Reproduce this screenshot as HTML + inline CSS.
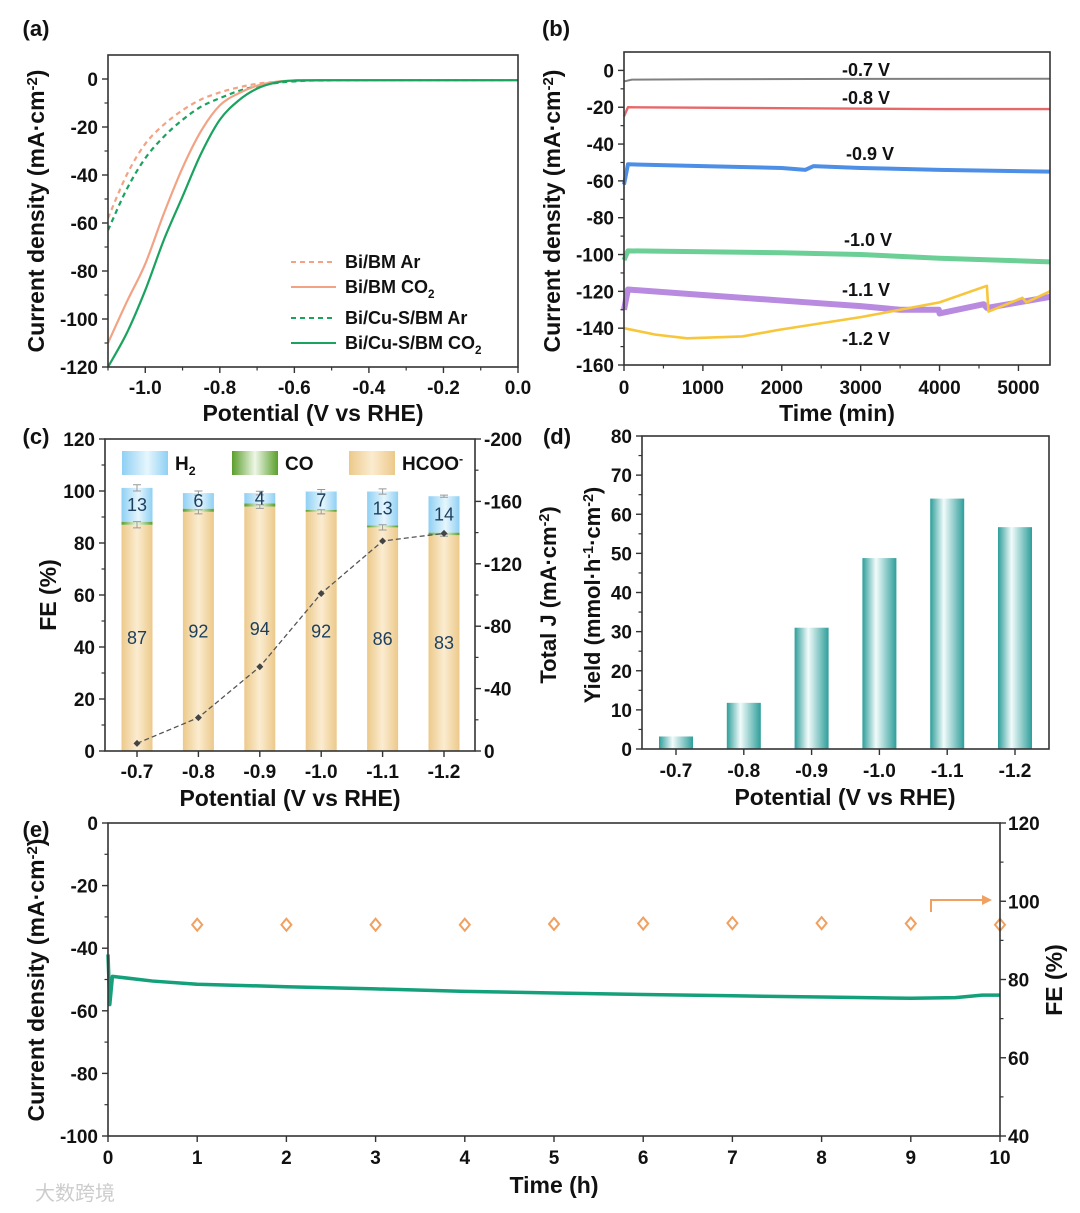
<!DOCTYPE html>
<html><head><meta charset="utf-8"><style>
html,body{margin:0;padding:0;background:#fff;}
svg{display:block;font-family:"Liberation Sans","Noto Sans CJK SC",sans-serif;}
</style></head><body>
<svg id="fig" width="1080" height="1213" viewBox="0 0 1080 1213" xmlns="http://www.w3.org/2000/svg">
<defs>
<linearGradient id="gTan" x1="0" x2="1"><stop offset="0" stop-color="#ecc98a"/><stop offset="0.5" stop-color="#fbecd0"/><stop offset="1" stop-color="#ecc98a"/></linearGradient>
<linearGradient id="gBlue" x1="0" x2="1"><stop offset="0" stop-color="#8fd0f4"/><stop offset="0.55" stop-color="#e6f6fd"/><stop offset="1" stop-color="#8fd0f4"/></linearGradient>
<linearGradient id="gGreen" x1="0" x2="1"><stop offset="0" stop-color="#5a9e2c"/><stop offset="0.5" stop-color="#eef7e6"/><stop offset="1" stop-color="#5a9e2c"/></linearGradient>
<linearGradient id="gTeal" x1="0" x2="1"><stop offset="0" stop-color="#2e9e9a"/><stop offset="0.4" stop-color="#f2fbfb"/><stop offset="1" stop-color="#2e9e9a"/></linearGradient>
</defs>
</svg>
<script>
// ---------- data ----------
// panel a
const aX = [-1.1,-1.05,-1.0,-0.95,-0.9,-0.85,-0.8,-0.75,-0.7,-0.65,-0.6,-0.5,0];
const aBiAr   = [-58,-40,-27,-19,-13,-8.5,-5.6,-3.5,-2,-1.2,-0.8,-0.6,-0.5];
const aBiCO2  = [-110,-93,-77,-56,-37,-21.6,-11,-6,-2.8,-1.2,-0.6,-0.5,-0.5];
const aCuAr   = [-63,-46,-33,-24,-17,-11.5,-8,-5,-3,-1.7,-1,-0.6,-0.5];
const aCuCO2  = [-120,-106,-88,-67,-49,-31,-17,-9,-4,-1.5,-0.6,-0.5,-0.5];
// panel b
const b07T=[0,100,1000,3000,5400], b07=[-6,-5,-4.8,-4.6,-4.5];
const b08T=[0,50,2000,4000,5400], b08=[-25,-20,-20.5,-21,-21];
const b09T=[0,50,1000,2000,2300,2400,3000,4000,5400], b09=[-62,-51,-52,-53,-54,-52,-53,-54,-55];
const b10T=[0,50,2000,3000,4000,5400], b10=[-103,-98,-99,-100,-102,-104];
const b11T=[0,50,1000,2000,3000,3500,3990,4000,4560,4600,5000,5400], b11=[-130,-119,-122,-125,-128,-130,-130,-132,-127,-129,-126,-123];
const b12T=[0,400,800,1500,1950,3000,4000,4600,4620,5050,5100,5400], b12=[-140,-143.5,-145.5,-144.5,-141,-134,-126,-117,-131,-123.5,-126,-120];
// panel c
const cCats = ['-0.7','-0.8','-0.9','-1.0','-1.1','-1.2'];
const cHCOO = [87,92,94,92,86,83];
const cCO   = [1.2,1.2,1.2,0.8,0.8,1.0];
const cH2   = [13,6,4,7,13,14];
const cErr  = [1.2,0.8,0.7,0.8,1.0,0.4];
const cJ    = [4.9,21.4,54,101,134.6,139.5];
// panel d
const dCats = ['-0.7','-0.8','-0.9','-1.0','-1.1','-1.2'];
const dYield = [3.2,11.8,31,48.8,64,56.7];
// panel e
const eT = [0,0.02,0.05,0.5,1,2,3,4,5,6,7,8,9,9.5,9.8,10];
const eJ = [-42,-58,-49,-50.5,-51.5,-52.3,-53,-53.8,-54.3,-54.8,-55.2,-55.6,-56,-55.8,-55,-55];
const eFEt = [1,2,3,4,5,6,7,8,9,10];
const eFE = [94,94,94,94,94.2,94.3,94.4,94.4,94.3,94];

// ---------- helpers ----------
const NS='http://www.w3.org/2000/svg';
const svg=document.getElementById('fig');
const TICK=19;
function mk(tag,attrs,name,parent){
  const el=document.createElementNS(NS,tag);
  for(const k in attrs) el.setAttribute(k,attrs[k]);
  
  
  (parent||svg).appendChild(el); return el;
}
function txt(x,y,s,o,name){
  o=o||{};
  const t=mk('text',{x:x,y:y,'font-size':o.size||TICK,'font-weight':o.weight||'bold','text-anchor':o.anchor||'middle',fill:o.fill||'#111'},name);
  if(o.rot) t.setAttribute('transform','rotate('+o.rot+' '+x+' '+y+')');
  t.textContent=s; return t;
}
function richTxt(x,y,parts,o,name){
  o=o||{};
  const t=mk('text',{x:x,y:y,'font-size':o.size||20,'font-weight':'bold','text-anchor':o.anchor||'middle',fill:'#111'},name);
  if(o.rot) t.setAttribute('transform','rotate('+o.rot+' '+x+' '+y+')');
  parts.forEach(p=>{
    const ts=document.createElementNS(NS,'tspan');
    if(p[1]==='sup'){ts.setAttribute('dy',-7);ts.setAttribute('font-size',(o.size||20)*0.65);}
    if(p[1]==='sub'){ts.setAttribute('dy',5);ts.setAttribute('font-size',(o.size||20)*0.65);}
    ts.textContent=p[0]; t.appendChild(ts);
    if(p[1]){const b=document.createElementNS(NS,'tspan');b.setAttribute('dy',p[1]==='sup'?7:-5);b.textContent='\u200b';t.appendChild(b);}
  });
  return t;
}
function sc(d0,d1,r0,r1){return v=>r0+(v-d0)/(d1-d0)*(r1-r0);}
function frame(L,T,R,B,name){mk('rect',{x:L,y:T,width:R-L,height:B-T,fill:'none',stroke:'#333','stroke-width':1.6},name);}
function yTicks(ys,L,vals,minor,labelX,side,name,fmt){
  const d=side==='r'?1:-1;
  vals.forEach(v=>{mk('line',{x1:L,x2:L+d*6,y1:ys(v),y2:ys(v),stroke:'#333','stroke-width':1.4},name+'-tick');
    txt(labelX,ys(v)+7,fmt?fmt(v):String(v),{anchor:side==='r'?'start':'end'},name+'-label');});
  minor.forEach(v=>mk('line',{x1:L,x2:L+d*3.5,y1:ys(v),y2:ys(v),stroke:'#333','stroke-width':1.2},name+'-minor-tick'));
}
function xTicks(xs,B,vals,labels,minor,labelY,name){
  vals.forEach((v,i)=>{mk('line',{x1:xs(v),x2:xs(v),y1:B,y2:B+6,stroke:'#333','stroke-width':1.4},name+'-tick');
    txt(xs(v),labelY,labels[i],{},name+'-label');});
  minor.forEach(v=>mk('line',{x1:xs(v),x2:xs(v),y1:B,y2:B+3.5,stroke:'#333','stroke-width':1.2},name+'-minor-tick'));
}
function linePath(pts){return 'M'+pts.map(p=>p[0]+','+p[1]).join(' L');}
function smoothPath(pts){
  // monotone-ish: cubic with clamped tangents to avoid overshoot
  let d='M'+pts[0][0]+','+pts[0][1];
  for(let i=0;i<pts.length-1;i++){
    const p0=pts[i-1]||pts[i],p1=pts[i],p2=pts[i+1],p3=pts[i+2]||p2;
    let c1=[p1[0]+(p2[0]-p0[0])/6,p1[1]+(p2[1]-p0[1])/6],c2=[p2[0]-(p3[0]-p1[0])/6,p2[1]-(p3[1]-p1[1])/6];
    const lo=Math.min(p1[1],p2[1]),hi=Math.max(p1[1],p2[1]);
    c1[1]=Math.min(hi,Math.max(lo,c1[1]));c2[1]=Math.min(hi,Math.max(lo,c2[1]));
    d+=' C'+c1[0]+','+c1[1]+' '+c2[0]+','+c2[1]+' '+p2[0]+','+p2[1];
  }
  return d;
}
function range(a,b,s){const r=[];for(let v=a;v<=b+1e-9;v+=s)r.push(+v.toFixed(4));return r;}

// ---------- panel labels ----------
txt(36,36,'(a)',{size:22},'panel-a-label');
txt(556,36,'(b)',{size:22},'panel-b-label');
txt(36,444,'(c)',{size:22},'panel-c-label');
txt(557,444,'(d)',{size:22},'panel-d-label');
txt(36,837,'(e)',{size:22},'panel-e-label');

// ---------- panel a ----------
(function(){
  const L=108,R=518,T=55,B=367;
  const xs=sc(-1.1,0,L,R), ys=sc(-120,10,B,T);
  const g=mk('g',{},'panel-a-lsv');
  const clip=mk('clipPath',{id:'clipA'},'clip-a',svg); mk('rect',{x:L,y:T,width:R-L,height:B-T},'clip-a-rect',clip);
  const series=[[aBiAr,'#f3a385','5,4','bi-bm-ar-curve'],[aCuAr,'#1aa35f','5,4','bi-cus-bm-ar-curve'],[aBiCO2,'#f3a385','','bi-bm-co2-curve'],[aCuCO2,'#1aa35f','','bi-cus-bm-co2-curve']];
  series.forEach(s=>{const p=mk('path',{d:smoothPath(aX.map((x,i)=>[xs(x),ys(s[0][i])])),fill:'none',stroke:s[1],'stroke-width':2.2,'clip-path':'url(#clipA)'},s[3],g); if(s[2])p.setAttribute('stroke-dasharray',s[2]);});
  frame(L,T,R,B,'panel-a-frame');
  yTicks(ys,L,[0,-20,-40,-60,-80,-100,-120],[-10,-30,-50,-70,-90,-110],98,'l','a-y');
  xTicks(xs,B,[-1.0,-0.8,-0.6,-0.4,-0.2,0],['-1.0','-0.8','-0.6','-0.4','-0.2','0.0'],[-1.1,-0.9,-0.7,-0.5,-0.3,-0.1],394,'a-x');
  txt(313,421,'Potential (V vs RHE)',{size:23},'a-x-axis-title');
  richTxt(44,211,[['Current density (mA·cm'],['-2','sup'],[')']],{size:23,rot:-90},'a-y-axis-title');
  const leg=[['Bi/BM Ar','#f3a385',1,262,''],['Bi/BM CO','#f3a385',0,287,'2'],['Bi/Cu-S/BM  Ar','#1aa35f',1,318,''],['Bi/Cu-S/BM CO','#1aa35f',0,343,'2']];
  leg.forEach(l=>{const ln=mk('line',{x1:291,x2:336,y1:l[3],y2:l[3],stroke:l[1],'stroke-width':2},'legend-line'); if(l[2])ln.setAttribute('stroke-dasharray','5,4');
    const parts=[[l[0]]]; if(l[4])parts.push([l[4],'sub']); richTxt(345,l[3]+6,parts,{size:18,anchor:'start'},'legend-entry');});
})();

// ---------- panel b ----------
(function(){
  const L=624,R=1050,T=52,B=365;
  const xs=sc(0,5400,L,R), ys=sc(-160,10,B,T);
  const g=mk('g',{},'panel-b-stability');
  const S=[[b07T,b07,'#808080',2,'trace-0.7V'],[b08T,b08,'#e8686a',2.4,'trace-0.8V'],[b09T,b09,'#4d8fe6',4,'trace-0.9V'],[b10T,b10,'#6ccf95',5,'trace-1.0V'],[b11T,b11,'#b98be0',6,'trace-1.1V'],[b12T,b12,'#f7c63a',2.6,'trace-1.2V']];
  S.forEach(s=>mk('path',{d:linePath(s[0].map((t,i)=>[xs(t),ys(s[1][i])])),fill:'none',stroke:s[2],'stroke-width':s[3],'stroke-linejoin':'round'},s[4],g));
  frame(L,T,R,B,'panel-b-frame');
  yTicks(ys,L,range(-160,0,20).reverse(),range(-150,10,20).filter(v=>v<10),614,'l','b-y');
  xTicks(xs,B,[0,1000,2000,3000,4000,5000],['0','1000','2000','3000','4000','5000'],[500,1500,2500,3500,4500],394,'b-x');
  txt(837,421,'Time (min)',{size:23},'b-x-axis-title');
  richTxt(560,211,[['Current density (mA·cm'],['-2','sup'],[')']],{size:23,rot:-90},'b-y-axis-title');
  [['-0.7 V',866,76],['-0.8 V',866,104],['-0.9 V',870,160],['-1.0 V',868,246],['-1.1 V',866,296],['-1.2 V',866,345]].forEach(l=>txt(l[1],l[2],l[0],{size:18},'potential-label'));
})();

// ---------- panel c ----------
(function(){
  const L=105,R=475,T=439,B=751;
  const xs=sc(0,5,137,444), ys=sc(0,120,B,T), yr=sc(0,200,B,T);
  const g=mk('g',{},'panel-c-fe');
  const w=31;
  cCats.forEach((c,i)=>{
    const x=xs(i)-w/2;
    mk('rect',{x:x,y:ys(cHCOO[i]),width:w,height:ys(0)-ys(cHCOO[i]),fill:'url(#gTan)'},'bar-hcoo',g);
    mk('rect',{x:x,y:ys(cHCOO[i]+cCO[i]),width:w,height:ys(cHCOO[i])-ys(cHCOO[i]+cCO[i]),fill:'url(#gGreen)'},'bar-co',g);
    const top=cHCOO[i]+cCO[i]+cH2[i];
    mk('rect',{x:x,y:ys(top),width:w,height:ys(cHCOO[i]+cCO[i])-ys(top),fill:'url(#gBlue)'},'bar-h2',g);
    [[top,'err-h2'],[cHCOO[i],'err-hcoo']].forEach(e=>{const yc=ys(e[0]),h=ys(0)-ys(cErr[i]);
      mk('path',{d:'M'+(xs(i)-4)+','+(yc-h)+' h8 M'+xs(i)+','+(yc-h)+' v'+(2*h)+' M'+(xs(i)-4)+','+(yc+h)+' h8',stroke:'#999','stroke-width':1,fill:'none'},e[1],g);});
    txt(xs(i),ys(cHCOO[i]/2)+6,String(cHCOO[i]),{size:18,weight:'normal',fill:'#1c3f5e'},'value-hcoo');
    txt(xs(i),ys(cHCOO[i]+cCO[i]+cH2[i]/2)+6,String(cH2[i]),{size:18,weight:'normal',fill:'#1c3f5e'},'value-h2');
  });
  mk('path',{d:linePath(cJ.map((v,i)=>[xs(i),yr(v)])),fill:'none',stroke:'#555','stroke-width':1.3,'stroke-dasharray':'5,3'},'total-j-line',g);
  cJ.forEach((v,i)=>mk('path',{d:'M'+xs(i)+','+(yr(v)-3.5)+' l3.5,3.5 l-3.5,3.5 l-3.5,-3.5z',fill:'#444'},'total-j-point',g));
  frame(L,T,R,B,'panel-c-frame');
  yTicks(ys,L,range(0,120,20),range(10,110,20),95,'l','c-y');
  yTicks(yr,R,range(0,200,40),range(20,180,40),484,'r','c-y-right',v=>v===0?'0':'-'+v);
  xTicks(xs,B,[0,1,2,3,4,5],cCats,[],778,'c-x');
  txt(290,806,'Potential (V vs RHE)',{size:23},'c-x-axis-title');
  txt(56,595,'FE (%)',{size:23,rot:-90},'c-y-axis-title');
  richTxt(556,595,[['Total J (mA·cm'],['-2','sup'],[')']],{size:22,rot:-90},'c-y-right-axis-title');
  [['url(#gBlue)',122,'H',' 2','legend-h2'],['url(#gGreen)',232,'CO','','legend-co'],['url(#gTan)',349,'HCOO','-','legend-hcoo']].forEach(l=>{
    mk('rect',{x:l[1],y:451,width:46,height:24,fill:l[0]},l[4]+'-swatch');
    const parts=[[l[2]]]; if(l[3]==='-')parts.push(['-','sup']); else if(l[3])parts.push(['2','sub']);
    richTxt(l[1]+53,470,parts,{size:19,anchor:'start'},l[4]);
  });
})();

// ---------- panel d ----------
(function(){
  const L=642,R=1049,T=436,B=749;
  const xs=sc(0,5,676,1015), ys=sc(0,80,B,T);
  const g=mk('g',{},'panel-d-yield');
  dYield.forEach((v,i)=>mk('rect',{x:xs(i)-17,y:ys(v),width:34,height:ys(0)-ys(v),fill:'url(#gTeal)'},'bar-yield-'+dCats[i],g));
  frame(L,T,R,B,'panel-d-frame');
  yTicks(ys,L,range(0,80,10),range(5,75,10),632,'l','d-y');
  xTicks(xs,B,[0,1,2,3,4,5],dCats,[],777,'d-x');
  txt(845,805,'Potential (V vs RHE)',{size:23},'d-x-axis-title');
  richTxt(600,595,[['Yield (mmol·h'],['-1','sup'],['·cm'],['-2','sup'],[')']],{size:22,rot:-90},'d-y-axis-title');
})();

// ---------- panel e ----------
(function(){
  const L=108,R=1000,T=823,B=1136;
  const xs=sc(0,10,L,R), ys=sc(-100,0,B,T), yr=sc(40,120,B,T);
  const g=mk('g',{},'panel-e-longterm');
  mk('path',{d:linePath(eT.map((t,i)=>[xs(t),ys(eJ[i])])),fill:'none',stroke:'#13a07a','stroke-width':3.5,'stroke-linejoin':'round'},'current-trace',g);
  eFEt.forEach((t,i)=>{const x=xs(t),y=yr(eFE[i]);mk('path',{d:'M'+x+','+(y-6)+' l5,6 l-5,6 l-5,-6z',fill:'#fff',stroke:'#f0a060','stroke-width':2},'fe-marker',g);});
  mk('path',{d:'M931,912 V900 H984',fill:'none',stroke:'#f0a060','stroke-width':2},'axis-arrow');
  mk('path',{d:'M992,900 l-10,-5 v10z',fill:'#f0a060'},'axis-arrowhead');
  frame(L,T,R,B,'panel-e-frame');
  yTicks(ys,L,range(-100,0,20).reverse(),range(-90,-10,20),98,'l','e-y');
  yTicks(yr,R,range(40,120,20),range(50,110,20),1008,'r','e-y-right');
  xTicks(xs,B,range(0,10,1),range(0,10,1).map(String),[],1164,'e-x');
  txt(554,1193,'Time (h)',{size:23},'e-x-axis-title');
  richTxt(44,980,[['Current density (mA·cm'],['-2','sup'],[')']],{size:23,rot:-90},'e-y-axis-title');
  txt(1062,980,'FE (%)',{size:23,rot:-90},'e-y-right-axis-title');
})();
txt(75,1200,'大数跨境',{size:20,weight:'normal',fill:'#ccc'},'watermark');
</script>
</body></html>
